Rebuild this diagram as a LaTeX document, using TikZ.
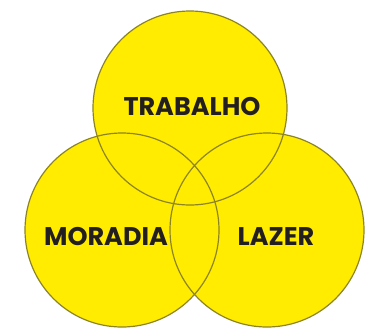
\documentclass[tikz,border=0pt]{standalone}
\usepackage{fontspec}
\setmainfont{Poppins}
\usepackage{tikz}

\definecolor{vennfill}{HTML}{FFEC00}
\definecolor{vennline}{HTML}{8C8424}
\definecolor{venntext}{HTML}{231F20}

\begin{document}
\begin{tikzpicture}[x=1pt, y=-1pt, font=\fontsize{25.5}{25.5}\selectfont\bfseries,
    lbl/.style={text=venntext, inner sep=0pt}]
  \useasboundingbox (0,0) rectangle (369,335);
  % filled discs
  \fill[vennfill] (190,108) circle (97);
  \fill[vennfill] (122,230) circle (97);
  \fill[vennfill] (267,230) circle (97);
  % outlines
  \draw[vennline, line width=1.2pt] (190,108) circle (97);
  \draw[vennline, line width=1.2pt] (122,230) circle (97);
  \draw[vennline, line width=1.2pt] (267,230) circle (97);
  % labels
  \node[lbl] (trabalho) at (192,107) {TRABALHO};
  \node[lbl] (moradia) at (106,237) {MORADIA};
  \node[lbl] (lazer) at (276,237) {LAZER};
\end{tikzpicture}
\end{document}
